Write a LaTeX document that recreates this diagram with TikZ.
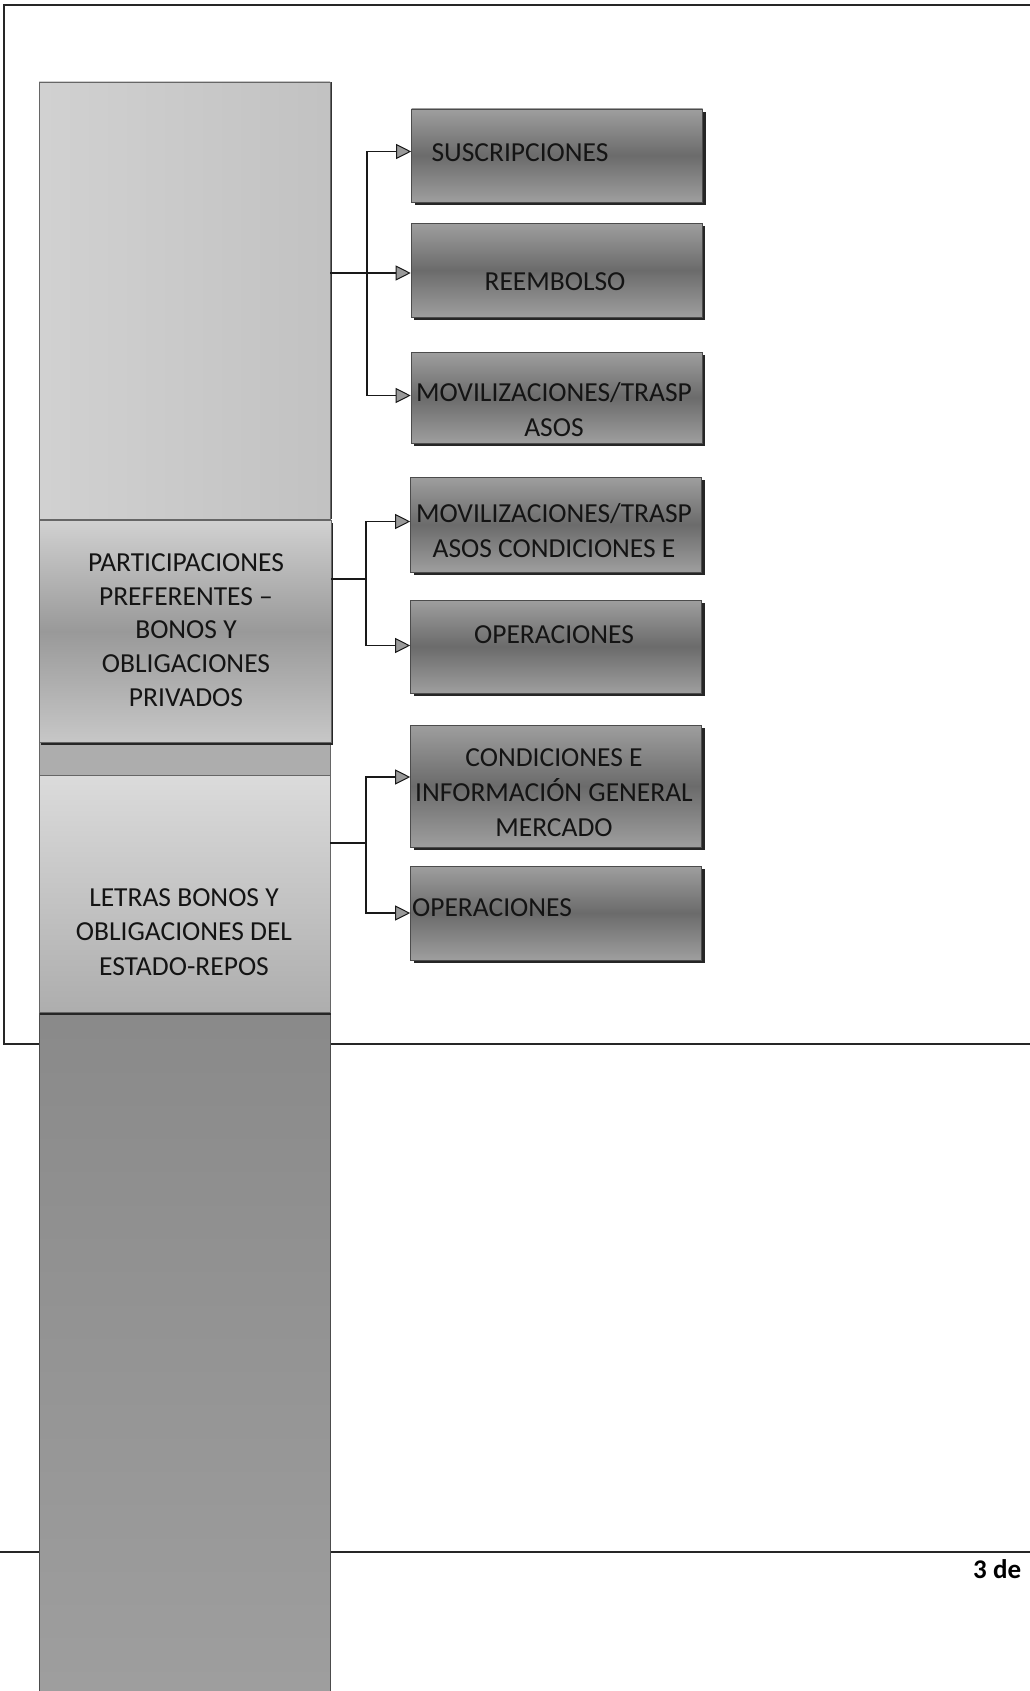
\documentclass[tikz,border=0pt]{standalone}
\usepackage{fontspec}
\setmainfont{Carlito}
\usetikzlibrary{arrows.meta,shadows}
\begin{document}
\begin{tikzpicture}[x=1pt,y=-1pt,
  frameline/.style={line width=1.6pt, black!85},
  colbox/.style={rectangle, inner sep=0pt, draw=black!60, line width=0.6pt},
  subbox/.style={rectangle, inner sep=0pt, minimum width=291pt, draw=black!70, line width=0.6pt,
     top color=black!38, bottom color=black!38, middle color=black!58,
     drop shadow={shadow xshift=3pt, shadow yshift=-3pt, opacity=1, fill=black!85}},
  lbl/.style={inner sep=0pt, align=center, text=black!92,
     font=\fontsize{27.5}{35}\selectfont},
  llbl/.style={inner sep=0pt, align=center, text=black!92,
     font=\fontsize{27.5}{33.6}\selectfont},
  conn/.style={line width=1.5pt, black!90},
  arr/.style={conn, -{Triangle[length=15pt, width=15pt, fill=black!40, line width=1pt]}}
]
\useasboundingbox (0,0) rectangle (1030,1691);
\fill[white] (0,0) rectangle (1030,1691);

% page frame and footer rule
\draw[frameline] (1030,5) -- (4,5) -- (4,1044) -- (1030,1044);
\draw[frameline] (0,1552) -- (1030,1552);
\node[anchor=west, inner sep=0pt, font=\fontsize{27}{32}\selectfont\bfseries] (pg) at (973,1569) {3 de};

% left column
\node[colbox, minimum width=291pt, minimum height=437pt, left color=black!18, right color=black!24,
      drop shadow={shadow xshift=2pt, shadow yshift=0pt, opacity=1, fill=black!80}] (col1) at (184.5,300.5) {};
\node[colbox, minimum width=291pt, minimum height=33pt, fill=black!32] (gap) at (184.5,758.5) {};
\node[colbox, minimum width=291pt, minimum height=679pt, draw=black!70, top color=black!46, bottom color=black!38] (col2) at (184.5,1351.5) {};
\node[colbox, minimum width=292pt, minimum height=222pt, top color=black!18, bottom color=black!22, middle color=black!40,
      drop shadow={shadow xshift=2pt, shadow yshift=-3pt, opacity=1, fill=black!85}] (pbox) at (185,631) {};
\node[colbox, minimum width=291pt, minimum height=237pt, top color=black!14, bottom color=black!32,
      drop shadow={shadow xshift=1pt, shadow yshift=-3pt, opacity=1, fill=black!85}] (lbox) at (184.5,893.5) {};
\node[llbl] (pt) at (186,630) {PARTICIPACIONES\\PREFERENTES –\\BONOS Y\\OBLIGACIONES\\PRIVADOS};
\node[lbl, font=\fontsize{27.5}{34.5}\selectfont] (lt) at (184,932) {LETRAS BONOS Y\\OBLIGACIONES DEL\\ESTADO-REPOS};

% right boxes
\node[subbox, minimum height=93pt] (s1) at (557,155.5) {};
\node[subbox, minimum height=94pt] (s2) at (556.5,270) {};
\node[subbox, minimum height=91pt] (s3) at (556.5,397.5) {};
\node[subbox, minimum height=95pt] (s4) at (556,524.5) {};
\node[subbox, minimum height=93pt] (s5) at (556,646.5) {};
\node[subbox, minimum height=122pt] (s6) at (556,786) {};
\node[subbox, minimum height=94pt] (s7) at (556,913) {};

\node[lbl] (t1) at (520,153) {SUSCRIPCIONES};
\node[lbl] (t2) at (555,282) {REEMBOLSO};
\node[lbl] (t3) at (554,410) {MOVILIZACIONES/TRASP\\ASOS};
\node[lbl] (t4) at (554,531) {MOVILIZACIONES/TRASP\\ASOS CONDICIONES E};
\node[lbl] (t5) at (554,635) {OPERACIONES};
\node[lbl] (t6) at (554,793) {CONDICIONES E\\INFORMACIÓN GENERAL\\MERCADO};
\node[lbl] (t7) at (492,908) {OPERACIONES};

% connectors
\coordinate (j1) at (367,273);
\coordinate (j2) at (366,579);
\coordinate (j3) at (366,843);
\draw[arr] (col1.east |- j1) -- (j1 -| s2.west);
\draw[arr] (j1) |- ([yshift=4pt]s1.west);
\draw[arr] (j1) |- ([yshift=2pt]s3.west);
\draw[conn] (pbox.east |- j2) -- (j2);
\draw[arr] (j2) |- ([yshift=3pt]s4.west);
\draw[arr] (j2) |- ([yshift=1pt]s5.west);
\draw[conn] (lbox.east |- j3) -- (j3);
\draw[arr] (j3) |- ([yshift=9pt]s6.west);
\draw[arr] (j3) |- (s7.west);
\end{tikzpicture}
\end{document}
